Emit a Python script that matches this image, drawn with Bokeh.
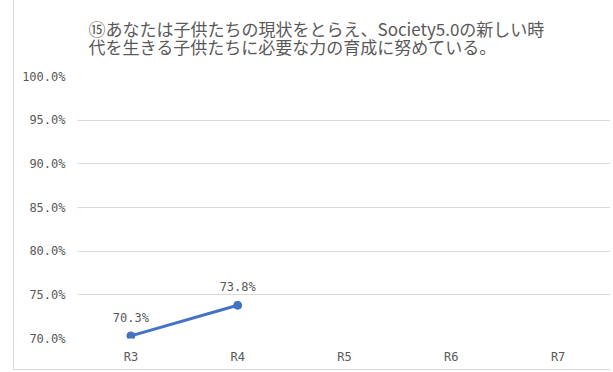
from bokeh.plotting import figure
from bokeh.models import ColumnDataSource, Range1d, FixedTicker, LabelSet, Title
from bokeh.core.properties import value
from bokeh.embed import file_html
from bokeh.resources import INLINE

categories = ["R3", "R4", "R5", "R6", "R7"]
values_x = ["R3", "R4"]
values = [70.3, 73.8]
y_ticks = [70, 75, 80, 85, 90, 95, 100]
title_text = "⑮あなたは子供たちの現状をとらえ、Society5.0の新しい時\n代を生きる子供たちに必要な力の育成に努めている。"

MONO = "DejaVu Sans Mono"
GRAY = "#595959"

p = figure(x_range=categories, y_range=Range1d(70, 100), width=597, height=374,
           output_backend="svg", toolbar_location=None,
           min_border_left=63, min_border_right=0, min_border_top=0, min_border_bottom=32)
p.styles = {"margin-left": "13px", "margin-top": "-4px", "margin-bottom": "-20px",
            "border-left": "1px solid #d9d9d9", "border-bottom": "1px solid #d9d9d9"}

t = Title(text=title_text, text_font="Noto Sans CJK JP", text_font_size="17px",
          text_color=GRAY, text_font_style="normal", align="left", offset=11,
          standoff=35, text_line_height=0.73)
p.add_layout(t, "above")

p.outline_line_color = None
p.xgrid.grid_line_color = None
p.ygrid.grid_line_color = "#d9d9d9"
p.ygrid.grid_line_width = 1

p.yaxis.ticker = FixedTicker(ticks=y_ticks)
p.yaxis.major_label_overrides = {v: f"{v:.1f}%" for v in y_ticks}
for ax in (p.xaxis[0], p.yaxis[0]):
    ax.axis_line_color = None
    ax.major_tick_line_color = None
    ax.minor_tick_line_color = None
    ax.major_tick_out = 0
    ax.major_tick_in = 0
    ax.minor_tick_out = 0
    ax.major_label_text_font = MONO
    ax.major_label_text_font_size = "12px"
    ax.major_label_text_color = GRAY
p.yaxis.major_label_standoff = 12
p.xaxis.major_label_standoff = 11

src = ColumnDataSource(dict(x=values_x, y=values, label=[f"{v:.1f}%" for v in values]))
p.line("x", "y", source=src, line_color="#4472C4", line_width=3)
p.scatter("x", "y", source=src, size=8, fill_color="#4472C4", line_color="#4472C4")
labels = LabelSet(x="x", y="y", text="label", source=src, y_offset=11,
                  text_align="center", text_baseline="bottom",
                  text_font=value(MONO), text_font_size=value("12px"), text_color=GRAY)
p.add_layout(labels)

open("out.html", "w").write(file_html(p, INLINE))
